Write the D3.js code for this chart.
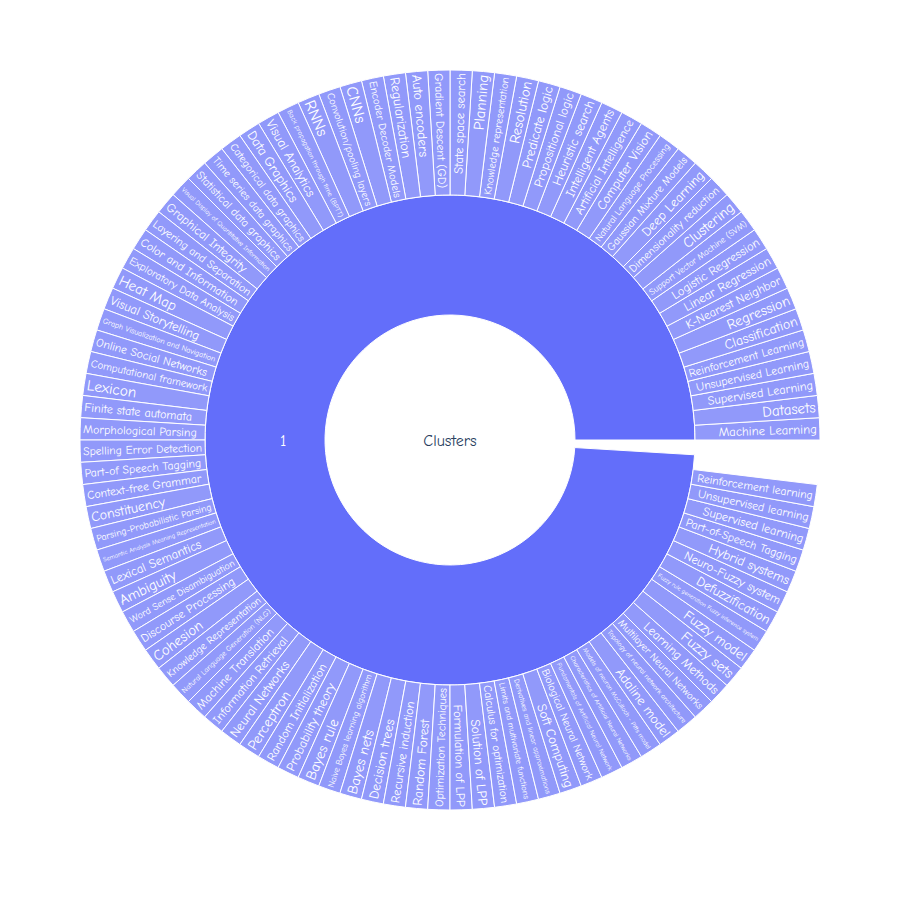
<!DOCTYPE html>
<html>
<head>
<meta charset="utf-8">
<script src="https://cdn.jsdelivr.net/npm/d3@7"></script>
<style>
  body { margin: 0; background: #fff; }
  svg { display: block; }
  text { font-family: "Comic Sans MS", "Comic Neue", "Noto Sans", sans-serif; }
</style>
</head>
<body>
<div id="chart"></div>
<script>
// ---- data ----
const rootLabel = "Clusters";
const rootTotal = 104;
const clusterLabels = ["1"];
const clusterValues = [103];

const topicLabels = [
  "Machine Learning", "Datasets", "Supervised Learning", "Unsupervised Learning",
  "Reinforcement Learning", "Classification", "Regression", "K-Nearest Neighbor",
  "Linear Regression", "Logistic Regression", "Support Vector Machine (SVM)", "Clustering",
  "Dimensionality reduction", "Deep Learning", "Gaussian Mixture Models", "Natural Language Processing",
  "Computer Vision", "Artificial Intelligence", "Intelligent Agents", "Heuristic search",
  "Propositional logic", "Predicate logic", "Resolution", "Knowledge representation",
  "Planning", "State space search", "Gradient Descent (GD)", "Auto encoders",
  "Regularization", "Encoder Decoder Models", "CNNs", "Convolution/pooling layers",
  "RNNs", "Back propagation through time (BPTT)", "Visual Analytics", "Data Graphics",
  "Categorical data graphics", "Time series data graphics", "Statistical data graphics",
  "Visual Display of Quantitative Information", "Graphical Integrity", "Layering and Separation",
  "Color and Information", "Exploratory Data Analysis", "Heat Map", "Visual Storytelling",
  "Graph Visualization and Navigation", "Online Social Networks", "Computational framework", "Lexicon",
  "Finite state automata", "Morphological Parsing", "Spelling Error Detection", "Part-of Speech Tagging",
  "Context-free Grammar", "Constituency", "Parsing-Probabilistic Parsing", "Semantic Analysis Meaning Representation",
  "Lexical Semantics", "Ambiguity", "Word Sense Disambiguation", "Discourse Processing",
  "Cohesion", "Knowledge Representation", "Natural Language Generation (NLG)", "Machine Translation",
  "Information Retrieval", "Neural Networks", "Perceptron", "Random Initialization",
  "Probability theory", "Bayes rule", "Naive Bayes learning algorithm", "Bayes nets",
  "Decision trees", "Recursive induction", "Random Forest", "Optimization Techniques",
  "Formulation of LPP", "Solution of LPP", "Calculus for optimization", "Limits and multivariate functions",
  "Derivatives and linear approximations", "Soft Computing", "Biological Neural Network", "Fundamentals of Artificial Neural Network",
  "Characteristics of Artificial Neural Networks", "Models of neuron McCulloch - Pitts model", "Adaline model", "Topology of neural network architecture",
  "Multilayer Neural Networks", "Learning Methods", "Fuzzy sets", "Fuzzy model",
  "Fuzzy rule generation Fuzzy inference system", "Defuzzification", "Neuro-Fuzzy system", "Hybrid systems",
  "Part-of-Speech Tagging", "Supervised learning", "Unsupervised learning", "Reinforcement learning"
];
const topicValues = [
  1, 1, 1, 1, 1, 1, 1, 1, 1, 1, 1, 1, 1, 1, 1, 1, 1, 1, 1, 1,
  1, 1, 1, 1, 1, 1, 1, 1, 1, 1, 1, 1, 1, 1, 1, 1, 1, 1, 1, 1,
  1, 1, 1, 1, 1, 1, 1, 1, 1, 1, 1, 1, 1, 1, 1, 1, 1, 1, 1, 1,
  1, 1, 1, 1, 1, 1, 1, 1, 1, 1, 1, 1, 1, 1, 1, 1, 1, 1, 1, 1,
  1, 1, 1, 1, 1, 1, 1, 1, 1, 1, 1, 1, 1, 1, 1, 1, 1, 1, 1, 1,
  1, 1
];

// ---- layout ----
const width = 900, height = 900;
const cx = 450, cy = 440;
const clusterColor = "#636efa";
const topicColor = "#9199fa";

const svg = d3.select("#chart").append("svg")
  .attr("width", width)
  .attr("height", height);

const g = svg.append("g").attr("transform", `translate(${cx},${cy})`);

// value -> angle (counterclockwise from 3 o'clock, in radians)
const angle = d3.scaleLinear().domain([0, rootTotal]).range([0, 2 * Math.PI]);
// depth -> radius
const radius = d3.scaleLinear().domain([0, 1, 2, 3]).range([0, 125, 245, 370]);

// d3.arc measures clockwise from 12 o'clock
const toD3 = a => Math.PI / 2 - a;
const arc = d3.arc()
  .innerRadius(d => radius(d.depth))
  .outerRadius(d => radius(d.depth + 1))
  .startAngle(d => toD3(d.a1))
  .endAngle(d => toD3(d.a0));

function segments(labels, values, depth) {
  const ends = d3.cumsum(values);
  return labels.map((name, i) => ({
    name, depth,
    a0: angle(ends[i] - values[i]),
    a1: angle(ends[i])
  }));
}

const rootSeg = [{ name: rootLabel, depth: 0, a0: 0, a1: angle(rootTotal) }];
const clusterSegs = segments(clusterLabels, clusterValues, 1);
const topicSegs = segments(topicLabels, topicValues, 2);

g.selectAll(".root").data(rootSeg).enter().append("path")
  .attr("class", "root")
  .attr("d", arc)
  .attr("fill", "#fff")
  .attr("stroke", "#fff");

g.selectAll(".cluster").data(clusterSegs).enter().append("path")
  .attr("class", "cluster")
  .attr("d", arc)
  .attr("fill", clusterColor)
  .attr("stroke", "#fff")
  .attr("stroke-width", 1);

g.selectAll(".topic").data(topicSegs).enter().append("path")
  .attr("class", "topic")
  .attr("d", arc)
  .attr("fill", topicColor)
  .attr("stroke", "#fff")
  .attr("stroke-width", 1);

// center label
g.append("text")
  .attr("text-anchor", "middle")
  .attr("dy", "0.35em")
  .style("font-size", "16px")
  .style("fill", "#2a3f5f")
  .text(rootLabel);

// cluster label (horizontal, a bit inside the ring middle)
const clabelR = (radius(1) + radius(2)) / 2 - 18;
g.selectAll(".clabel").data(clusterSegs).enter().append("text")
  .attr("class", "clabel")
  .attr("x", d => clabelR * Math.cos((d.a0 + d.a1) / 2))
  .attr("y", d => -clabelR * Math.sin((d.a0 + d.a1) / 2) + 5)
  .attr("text-anchor", "middle")
  .attr("dy", "0.35em")
  .style("font-size", "16px")
  .style("fill", "#fff")
  .text(d => d.name);

// topic labels, radial, fitted to slice
const pad = 3;
const rOut = radius(3) - pad;
const ringLen = radius(3) - radius(2) - 2 * pad;

const labels = g.selectAll(".tlabel").data(topicSegs).enter().append("text")
  .attr("class", "tlabel")
  .attr("dy", "0.35em")
  .style("font-size", "10px")
  .style("fill", "#fff")
  .text(d => d.name);

labels.each(function(d) {
  const k = this.getComputedTextLength() / 10;       // width per px of font
  const s = 2 * Math.sin((d.a1 - d.a0) / 2);
  const fLen = ringLen / k;
  const fThick = (s * rOut - 2) / (1.12 + s * k);
  const f = Math.min(16, fLen, fThick);
  const mid = (d.a0 + d.a1) / 2;
  const deg = mid * 180 / Math.PI;
  const x = rOut * Math.cos(mid), y = -rOut * Math.sin(mid);
  const right = Math.cos(mid) >= 0;
  d3.select(this)
    .style("font-size", f.toFixed(2) + "px")
    .attr("text-anchor", right ? "end" : "start")
    .attr("transform", `translate(${x},${y}) rotate(${right ? -deg : 180 - deg})`);
});
</script>
</body>
</html>
